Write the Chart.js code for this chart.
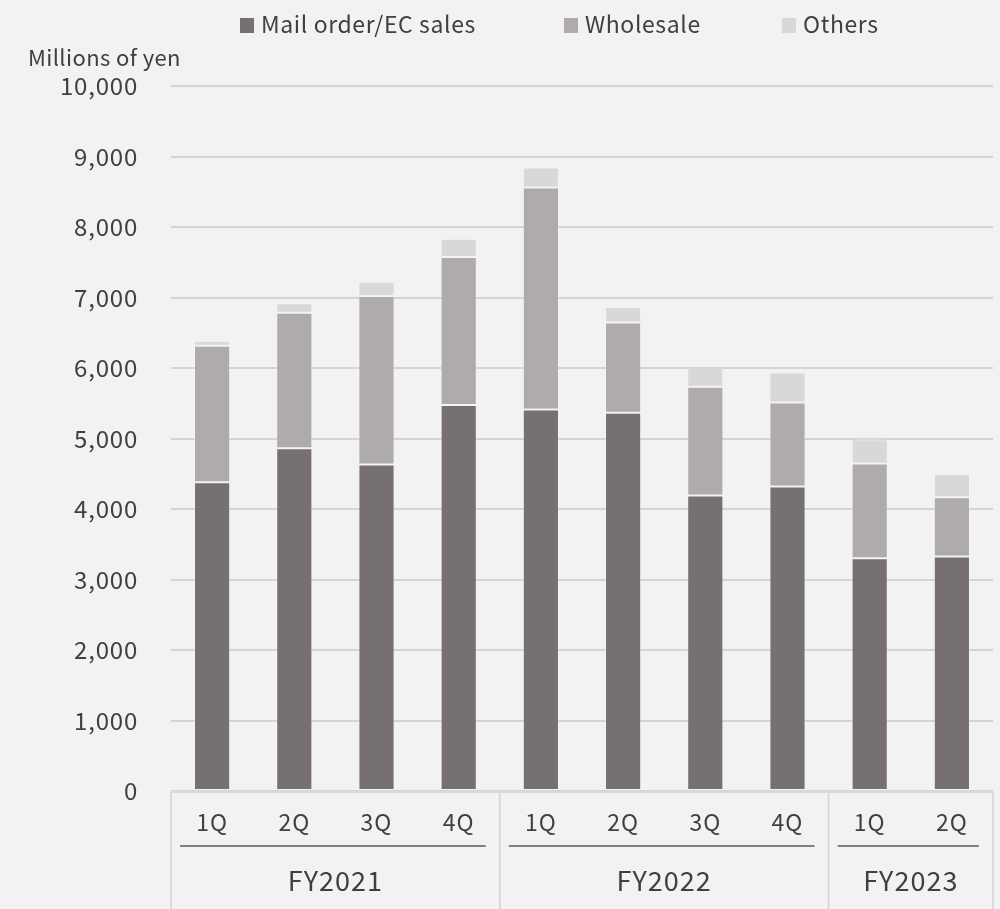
<!DOCTYPE html>
<html>
<head>
<meta charset="utf-8">
<script src="https://cdn.jsdelivr.net/npm/chart.js@4/dist/chart.umd.min.js"></script>
<style>
  html, body { margin: 0; padding: 0; background: #F2F2F2; }
  #wrap { width: 1000px; height: 909px; }
</style>
</head>
<body>
<div id="wrap"><canvas id="salesChart" width="1000" height="909"></canvas></div>
<script>
// quarterly sales by channel (millions of yen)
const quarters = ['1Q', '2Q', '3Q', '4Q', '1Q', '2Q', '3Q', '4Q', '1Q', '2Q'];
const fiscalYears = ['FY2021', 'FY2022', 'FY2023'];
const quartersPerYear = [4, 4, 2];

const mailOrder = [4380, 4860, 4630, 5475, 5410, 5365, 4190, 4320, 3300, 3325];
const wholesale = [1935, 1925, 2390, 2100, 3150, 1280, 1545, 1190, 1345, 840];
const others = [70, 135, 205, 260, 285, 220, 270, 425, 345, 330];

const seriesNames = ['Mail order/EC sales', 'Wholesale', 'Others'];
const seriesColors = ['#767170', '#AFABAA', '#D9D8D8'];

const FONT = "'Noto Sans CJK JP', 'Noto Sans', sans-serif";
const TEXT = '#404040';

// the labels look a bit airy, open the tracking up a little
const spacing = {
  id: 'spacing',
  beforeDraw(chart) { chart.ctx.letterSpacing = '0.8px'; }
};

// legend + unit label + grouped category axis
const decorations = {
  id: 'decorations',
  afterDraw(chart) {
    const ctx = chart.ctx;
    const x = chart.scales.x;
    const area = chart.chartArea;
    ctx.save();

    // legend
    const legendX = [240, 564, 782];
    ctx.font = '23px ' + FONT;
    ctx.letterSpacing = '0.6px';
    ctx.textBaseline = 'middle';
    ctx.textAlign = 'left';
    seriesNames.forEach((name, i) => {
      ctx.fillStyle = seriesColors[i];
      ctx.fillRect(legendX[i], 18, 14, 15);
      ctx.fillStyle = TEXT;
      ctx.fillText(name, legendX[i] + 21, 24);
    });

    // unit
    ctx.font = '22px ' + FONT;
    ctx.letterSpacing = '0.4px';
    ctx.fillText('Millions of yen', 28, 58);

    // axis line
    ctx.strokeStyle = '#D9D9D9';
    ctx.lineWidth = 2;
    ctx.beginPath();
    ctx.moveTo(area.left, area.bottom + 1);
    ctx.lineTo(area.right, area.bottom + 1);
    ctx.stroke();

    const step = x.getPixelForValue(1) - x.getPixelForValue(0);

    // quarter labels
    ctx.fillStyle = TEXT;
    ctx.textAlign = 'center';
    ctx.font = '23px ' + FONT;
    ctx.letterSpacing = '1px';
    quarters.forEach((q, i) => {
      ctx.fillText(q, x.getPixelForValue(i), 822);
    });

    // year groups
    let start = 0;
    ctx.beginPath();
    ctx.strokeStyle = '#D9D9D9';
    ctx.moveTo(area.left, area.bottom + 1);
    ctx.lineTo(area.left, 909);
    ctx.stroke();
    fiscalYears.forEach((fy, g) => {
      const end = start + quartersPerYear[g] - 1;
      const left = x.getPixelForValue(start) - step / 2;
      const right = x.getPixelForValue(end) + step / 2;

      ctx.strokeStyle = '#D9D9D9';
      ctx.lineWidth = 2;
      ctx.beginPath();
      ctx.moveTo(right, area.bottom + 1);
      ctx.lineTo(right, 909);
      ctx.stroke();

      ctx.strokeStyle = '#7F7F7F';
      ctx.lineWidth = 2;
      ctx.beginPath();
      ctx.moveTo(x.getPixelForValue(start) - 32, 846);
      ctx.lineTo(x.getPixelForValue(end) + 27, 846);
      ctx.stroke();

      ctx.fillStyle = TEXT;
      ctx.font = '27px ' + FONT;
      ctx.letterSpacing = '1px';
      ctx.fillText(fy, (left + right) / 2, 881);
      start = end + 1;
    });
    ctx.restore();
  }
};

const makeSet = (i, data) => ({
  label: seriesNames[i],
  data: data,
  backgroundColor: seriesColors[i],
  borderColor: 'rgba(255,255,255,0.2)',
  borderWidth: 1,
  borderSkipped: false,
  categoryPercentage: 1,
  barPercentage: 0.44
});

new Chart(document.getElementById('salesChart'), {
  type: 'bar',
  data: {
    labels: quarters,
    datasets: [makeSet(0, mailOrder), makeSet(1, wholesale), makeSet(2, others)]
  },
  options: {
    responsive: false,
    animation: false,
    layout: { padding: { top: 86, right: 7, bottom: 118, left: 0 } },
    plugins: { legend: { display: false }, tooltip: { enabled: false } },
    scales: {
      x: { stacked: true, display: false },
      y: {
        stacked: true,
        min: 0,
        max: 10000,
        afterFit: (scale) => { scale.width = 171; },
        border: { display: false },
        grid: { color: '#D4D4D4', lineWidth: 2, drawTicks: false },
        ticks: {
          stepSize: 1000,
          padding: 33,
          color: TEXT,
          font: { family: FONT, size: 24 },
          callback: (v) => v.toLocaleString('en-US')
        }
      }
    }
  },
  plugins: [spacing, decorations]
});
</script>
</body>
</html>
